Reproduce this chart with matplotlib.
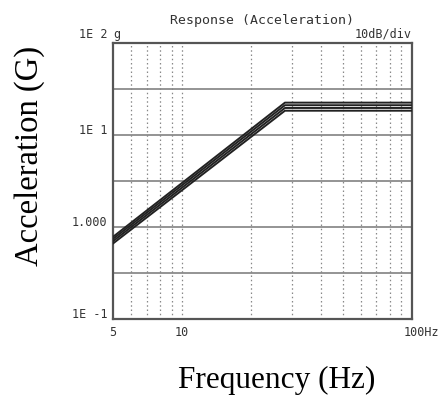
import matplotlib
matplotlib.use("Agg")
import matplotlib.pyplot as plt
from matplotlib.ticker import FixedLocator, NullLocator
from matplotlib.transforms import ScaledTranslation

# Datos (g vs Hz)
freq = [5, 28, 100]
curva1 = [0.78, 22.4, 22.4]
curva2 = [0.74, 21.0, 21.0]
curva3 = [0.70, 19.6, 19.6]
curva4 = [0.66, 18.3, 18.3]
curvas = [curva1, curva2, curva3, curva4]

yticks = [0.1, 1, 10, 100]
ytick_labels = ["1E -1", "1.000", "1E 1", "1E 2"]
xticks = [5, 10, 100]
xtick_labels = ["5", "10", "100Hz"]
rejilla_y = [10**-0.5, 10**0.5, 10**1.5]
rejilla_x = [6, 7, 8, 9, 10, 20, 30, 40, 50, 60, 70, 80, 90]

mono = "DejaVu Sans Mono"

fig = plt.figure(figsize=(4.43, 4.02), dpi=100)
ax = fig.add_axes([0.255, 0.204, 0.675, 0.687])

ax.set_xscale("log")
ax.set_yscale("log")
ax.set_xlim(5, 100)
ax.set_ylim(0.1, 100)

# rejilla
for y in rejilla_y + yticks[1:-1]:
    ax.axhline(y, color="#777777", lw=1.1, zorder=1)
for x in rejilla_x:
    ax.axvline(x, color="#888888", lw=0.9, ls=(0, (1.2, 2.2)), zorder=1)

for c in curvas:
    ax.plot(freq, c, color="#222222", lw=1.4, zorder=3)

for s in ax.spines.values():
    s.set_color("#555555")
    s.set_linewidth(1.6)

ax.xaxis.set_major_locator(FixedLocator(xticks))
ax.xaxis.set_minor_locator(NullLocator())
ax.yaxis.set_major_locator(FixedLocator(yticks))
ax.yaxis.set_minor_locator(NullLocator())
ax.set_xticklabels(xtick_labels, fontfamily=mono, fontsize=8.5, color="#333333")
ax.set_yticklabels(ytick_labels, fontfamily=mono, fontsize=8.5, color="#333333")
ax.tick_params(length=0, pad=4)

# las etiquetas del eje y van un poco por encima de la línea
for i, lab in enumerate(ax.get_yticklabels()):
    dy = 11 if i == len(yticks) - 1 else 7
    lab.set_transform(lab.get_transform() + ScaledTranslation(0, dy / 100, fig.dpi_scale_trans))
xl = ax.get_xticklabels()
xl[-1].set_transform(xl[-1].get_transform() + ScaledTranslation(0.09, 0, fig.dpi_scale_trans))

ax.set_title("Response (Acceleration)", fontfamily=mono, fontsize=9.5,
             color="#333333", pad=14)
ax.text(0.0, 1.012, "g", transform=ax.transAxes, fontfamily=mono,
        fontsize=8.5, color="#333333", ha="left", va="bottom")
ax.text(1.0, 1.012, "10dB/div", transform=ax.transAxes, fontfamily=mono,
        fontsize=8.5, color="#333333", ha="right", va="bottom")

ax.set_xlabel("Frequency (Hz)", fontfamily="Liberation Serif", fontsize=22.5)
ax.set_ylabel("Acceleration (G)", fontfamily="Liberation Serif", fontsize=23.5)
ax.xaxis.set_label_coords(0.547, -0.165)
ax.yaxis.set_label_coords(-0.228, 0.594)

fig.savefig("out.png", dpi=100)
